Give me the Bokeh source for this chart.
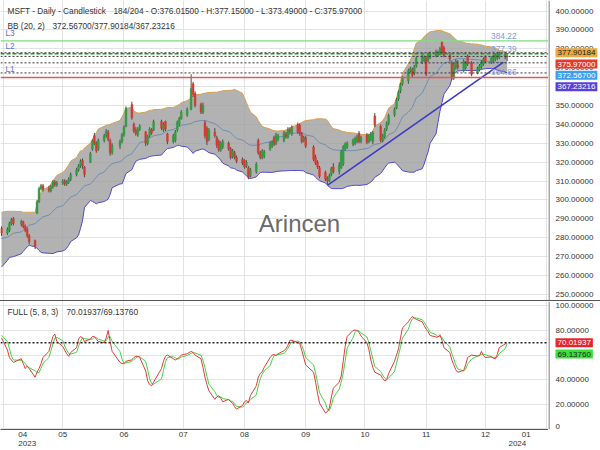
import pandas as pd
from bokeh.plotting import figure
from bokeh.layouts import column, row
from bokeh.models import (ColumnDataSource, FixedTicker, Label, Span, Div, Range1d, Grid, LinearAxis)
from bokeh.core.properties import value
from bokeh.embed import file_html
from bokeh.resources import INLINE

FONT = "Liberation Sans"
TXT = "#333333"

# ---------------- data ----------------
holidays = ["2023-04-07", "2023-05-29", "2023-06-19", "2023-07-04", "2023-09-04", "2023-11-23"]
dates = pd.bdate_range("2023-03-31", "2023-12-12", freq="C", holidays=holidays)

opens = [285, 282.5, 284, 287.5, 290, 287.5, 288.5, 286, 284.5, 281,
         278.5, 293, 299, 306, 307.5, 306, 305, 307, 309.5, 308,
         309, 310, 308.5, 309.5, 311, 313.5, 316, 318, 321, 317.5,
         320, 327, 334, 330, 327, 331.5, 334, 336, 331.5, 325,
         328.5, 331, 334.5, 339, 350.5, 340, 337, 334.5, 337.5, 336,
         330, 334, 337, 337, 341.5, 337, 341.5, 335, 331, 331.5,
         337, 340, 343, 345, 348, 361.5, 356.5, 350.5, 346.5, 341,
         338, 332, 336, 333, 331, 326.5, 328, 330, 327, 323,
         325, 322.5, 321.5, 321, 318, 317, 313, 315, 331.5, 325,
         322.5, 323, 327, 328.5, 333, 330, 332, 331.5, 335,
         333, 337,
         335, 340, 339.5, 335, 331.5, 333, 328, 322.5, 320, 317,
         314.5, 311.5, 310, 313.5, 317.5, 315, 317, 319, 327, 328,
         329.5, 330, 331, 335.5, 331, 334.5, 331, 332, 331, 344.5,
         339, 331.5, 333.5, 337.5, 340.5, 345, 348.5, 353.5, 357.5, 361.5,
         363, 368.5,
         369, 367, 371, 373, 374, 375, 374, 375.5, 376.5,
         377, 377.5, 383.5, 380.5, 376.5, 372.5, 364.5, 370, 371.5, 368.5,
         370, 376, 372.5, 367, 369, 370.5, 372, 375.5, 373, 374,
         374.5, 375, 375.5, 376, 376.015]
highs = [286, 285.5, 288.5, 290.5, 291, 289.5, 289, 287, 285.5, 282,
         279, 300, 307, 308.5, 308.5, 307.5, 308, 310.5, 310.5, 310,
         311, 311, 310.5, 312, 314.5, 317, 319, 321.5, 322, 318,
         325.5, 332, 335.5, 331, 332.5, 335, 337.5, 337, 332.5, 330,
         332, 335.5, 339.5, 349.5, 352, 341, 338.5, 338.5, 340, 336.5,
         334.5, 338.5, 338, 342.5, 342.5, 341, 342, 335.5, 335, 337,
         342, 344, 347.5, 349, 366.5, 362.5, 357.5, 351.5, 351.5, 342,
         339, 338, 338, 334, 332, 331, 332, 331, 328, 327,
         326, 323.5, 322.5, 321.5, 321, 318, 317, 320, 332.5, 326,
         327, 326.5, 331, 331.5, 334, 335.5, 335, 336.5, 336,
         338.5, 338.5,
         339.5, 341, 340.5, 336, 334, 334, 329, 324, 321, 318,
         315.5, 312.5, 314, 317.5, 319.5, 320, 326.5, 329, 330.5, 331,
         332.5, 333.5, 334.5, 336.5, 334, 335.5, 335, 336, 336.5, 346,
         340, 335, 338, 341.5, 345.5, 349, 354, 358, 362, 365.5,
         369.5, 370.5,
         370, 371.5, 376, 377, 376.5, 376, 378, 378.5, 379.5,
         379, 381, 384.22, 381.5, 377.5, 373.5, 372.5, 374.5, 374, 374.5,
         373.5, 377, 373.5, 370.5, 372, 374, 375.5, 376.5, 376, 377,
         377.5, 378, 378.5, 378, 377.15]
lows = [281, 281.5, 283, 286.5, 286.5, 286, 285, 283, 280, 276.5,
        274, 292.5, 298.5, 305, 304.5, 304, 304, 306, 307, 307,
        308, 307.5, 307.5, 308.5, 310, 312.5, 315, 317, 316.5, 312,
        319.5, 326, 329, 325, 326, 330.5, 333, 331, 323.5, 324,
        327, 330, 333.5, 338.5, 342.5, 335.5, 334, 333.5, 336.5, 328.5,
        329, 333, 334.5, 336.5, 337, 336, 336.5, 329.5, 330, 330.5,
        336, 339, 342.5, 344, 347.5, 354.5, 349, 345.5, 345.5, 332.5,
        329, 331, 333, 327.5, 325.5, 325.5, 327, 326, 321.5, 322,
        321.5, 319.5, 318.5, 316.5, 317, 311, 312, 314, 324, 321.5,
        321.5, 322, 326, 327.5, 328.5, 329, 331, 330.5, 332.5,
        332.5, 335,
        334, 335, 334, 330, 330.5, 327.5, 320.5, 318.5, 316.5, 311.5,
        310, 308.5, 309.5, 312.5, 314, 313.5, 316.5, 318, 326, 327,
        328.5, 329, 330, 330, 330, 329.5, 330, 331, 329.5, 338.5,
        330.5, 330.5, 332.5, 336.5, 339.5, 344, 348, 352.5, 356.5, 360.5,
        361.5, 367.5,
        365, 366, 370, 372, 373, 365.5, 373, 374.5, 375.5,
        376, 376.5, 377, 375.5, 373.5, 363.5, 363.5, 369, 369, 367.5,
        369, 371, 365.5, 366.5, 368, 369.5, 371, 372.5, 372, 373,
        373.5, 374, 374.5, 374.5, 373.49]
closes = [282.5, 284.5, 287.5, 289.5, 287.5, 288.5, 286, 284, 281, 278,
          275.5, 299, 306, 307.5, 305.5, 305, 307, 309.5, 308, 309,
          310, 308.5, 309.5, 311, 313.5, 316, 318, 320.5, 318, 313.5,
          324.5, 331, 330, 326, 331.5, 334, 336.5, 332, 325, 329,
          331, 334.5, 338.5, 348.5, 343.5, 336.5, 335, 337.5, 339, 330,
          333.5, 337.5, 335.5, 341.5, 338, 340, 337.5, 331, 334, 336,
          341, 343, 346.5, 348, 359, 355.5, 350, 346.5, 350, 334,
          331, 337, 334, 329, 326.5, 330, 331, 327, 322.5, 326,
          322.5, 320.5, 319.5, 317.5, 320, 312, 316, 319, 325, 322.5,
          326, 325.5, 330, 330.5, 329.5, 334.5, 334, 335.5, 333.5,
          337.5, 336,
          338.5, 336, 335, 331, 333, 328.5, 321.5, 319.5, 317.5, 312.5,
          311, 310, 313, 316.5, 315, 318.5, 325.5, 328, 329.5, 330,
          331.5, 332.5, 333.5, 331, 333, 330.5, 334, 335, 335.5, 339.5,
          331.5, 334, 337, 340.5, 344.5, 348, 353, 357, 361, 364.5,
          368.5, 369.5,
          366, 370.5, 375, 376, 375.5, 366.5, 377, 377.5, 378.5,
          378, 380, 378, 376.5, 374.5, 364.5, 371.5, 373.5, 370, 373.5,
          372, 372, 366.5, 369.5, 371, 373, 374.5, 373.5, 375, 376,
          376.5, 377, 377.5, 377, 375.97]

bb_upper = [293.5, 294, 294, 294, 294, 293.8, 293.5, 293.5, 293.5, 293.5,
            293.5, 298, 302, 304, 305.5, 307, 308.5, 310, 311.5, 313,
            314.5, 315.6, 317, 318.5, 320.5, 322.5, 324.5, 326, 326, 327.5,
            330, 332, 334, 335.7, 337.5, 339, 339.5, 339.8, 340, 340.5,
            342, 344, 346, 348.5, 349, 347, 346.5, 346, 346, 346.5,
            347, 347.4, 347.5, 347.8, 348, 348.3, 348.6, 349, 349, 349.5,
            350, 350.5, 351.5, 352.5, 354, 355, 355.5, 356, 356.3, 356.5,
            356.7, 356.9, 357, 357, 357.3, 357.5, 357.8, 358, 358, 358.2,
            358.5, 358, 356.5, 354, 351.5, 349, 346.5, 344, 342, 340.5,
            339, 338.5, 337.5, 337, 336.7, 336.5, 336.5, 336.7, 337,
            337.3, 338,
            338.8, 339.6, 340.5, 341, 341.6, 342, 342.5, 342.8, 343, 343,
            342.8, 342, 340.5, 338.8, 337.8, 337, 336.5, 336.2, 336, 335.7,
            335.5, 335.3, 335.1, 335, 334.7, 334.5, 334.5, 335.5, 336.5, 339,
            341, 342, 343.5, 346, 348.5, 351, 354, 358, 362.5, 367,
            372, 374,
            376.5, 380, 383, 385, 386.5, 387.5, 388.3, 389, 389.5,
            389.7, 389.7, 389.5, 389, 388, 387, 386, 385, 384, 383.5,
            383, 382.8, 382.6, 382.4, 382.2, 382, 381.7, 381.4, 381, 380.8,
            380.4, 379.8, 379.2, 378.6, 377.90184]
bb_mid = [279.6, 280.3, 281, 281.7, 282.4, 283.1, 283.9, 284.8, 285.7, 286.6,
          287.5, 288.5, 289.3, 290.2, 291.1, 292, 292.9, 294, 295, 296,
          297, 298, 299.2, 300.4, 301.6, 302.8, 304, 305.2, 306.5, 307.5,
          308.5, 309.5, 310.8, 312, 313.4, 314.8, 316, 317.3, 318.4, 319.3,
          320.2, 321, 322, 323, 324.5, 326, 327.5, 329, 330.4, 331,
          332, 332.7, 333.4, 334, 334.7, 335.3, 336, 336.6, 337.3, 337.8,
          338.3, 338.9, 339.5, 340, 340.5, 341, 341.5, 342, 342, 342,
          341.8, 341.3, 340.5, 339.6, 338.8, 338, 337, 336.3, 335.6, 334.5,
          333.5, 332.5, 331.7, 331, 330.2, 329.5, 329, 329, 329, 329.5,
          329.8, 330.2, 330.7, 331.2, 331.8, 332.5, 333.2, 333.8, 334,
          334.3, 334.8,
          335.2, 335.5, 335.7, 335.6, 335.2, 334.4, 333.6, 332.4, 331.3, 330.2,
          329.2, 328.3, 327.6, 327, 326.6, 326.3, 326.2, 326.1, 326.1, 326.1,
          326.1, 326.2, 326.3, 326.5, 326.8, 327.2, 327.6, 328.3, 328.8, 329.4,
          330, 331, 332, 333.2, 334.5, 336, 337.6, 339.5, 341.6, 344,
          346.5, 347.7,
          349, 351.5, 354, 356.5, 358.8, 361, 363.2, 365.3, 367,
          368.5, 370, 371.3, 372.4, 373.2, 373.8, 374.3, 374.6, 374.8, 374.8,
          374.7, 374.6, 374.4, 374.2, 374, 373.8, 373.6, 373.4, 373.2, 373.1,
          373, 372.9, 372.8, 372.7, 372.567]
bb_lower = [264.5, 268, 269.6, 269.8, 270, 271.5, 272.8, 274, 275.2, 276,
            275.2, 274.5, 273.3, 272.3, 272, 271.8, 271.7, 271.7, 272, 272.5,
            273, 273.5, 274.5, 276, 278, 280, 281.5, 285, 289, 296,
            299.7, 299.2, 298.6, 298, 298.5, 299.2, 299.7, 300.5, 303, 306.5,
            308.5, 308.5, 311, 314, 316, 318.5, 320.5, 321, 321.5, 322,
            322.5, 323, 323.2, 323.4, 323.8, 325, 326.2, 327.2, 327.8, 328.3,
            328.8, 328.8, 328.5, 328, 326, 324.6, 325.8, 326.8, 327, 326.5,
            325.8, 325, 324.2, 323.2, 322.3, 321, 319.5, 318, 317, 316.8,
            316.6, 315.8, 314.8, 313.8, 312.8, 311.8, 311.3, 312.2, 313.5, 314.5,
            314.7, 314.7, 314.6, 314.6, 314.8, 315, 315.2, 315.4, 315.4,
            315.5, 315.6,
            315.6, 315.6, 315.6, 315.5, 315.4, 314.5, 313.2, 312, 311, 310.2,
            309, 307.9, 306.8, 306.1, 306, 306, 306, 306.2, 306.6, 307.2,
            307.7, 307.8, 307.8, 307.7, 307.8, 308.2, 308.8, 309.5, 310.5, 312,
            314, 315.5, 317, 318.5, 319.5, 320, 319.2, 318, 316.8, 315.5,
            314.8, 314.7,
            314.7, 314.7, 315.5, 316.5, 319, 322.5, 325.5, 330, 335,
            341, 347, 351.5, 356, 360.5, 364, 366.5, 367.5, 368.3, 368.5,
            368.5, 368.5, 368.5, 368.6, 368.8, 369, 369.3, 369.5, 369.6, 369.5,
            369.2, 368.8, 368.3, 367.8, 367.23216]

stoch_k = [74, 64, 58, 56, 54, 57, 53, 49, 51, 49,
           42, 46, 49, 53, 58, 63, 69, 75, 77, 71,
           67, 64, 61, 59, 62, 66, 73, 75, 74, 71,
           73, 75, 75, 73, 71, 70, 74, 80, 71, 63,
           54, 53, 53, 55, 56, 58, 59, 59, 58, 47,
           39, 36, 35, 38, 49, 55, 59, 60, 57, 56,
           57, 58, 60, 61, 63, 62, 60, 57, 50, 42,
           36, 31, 24, 26, 27, 25, 22, 24, 22, 21,
           18, 16, 19, 22, 23, 21, 27, 35, 42, 45,
           46.4, 50, 58, 60, 60.5, 59.5, 61, 63.5, 65,
           68, 72,
           72, 70, 69.4, 64, 58, 52, 46, 38, 29, 21,
           13, 14, 17, 26, 33, 38, 43, 55, 67, 75,
           80, 80.3, 80, 78.5, 75.5, 70, 64.5, 56, 50, 46,
           43.8, 41, 39, 40, 45, 55, 60, 65, 74, 82,
           87, 89.5,
           91.3, 90, 89, 87, 84, 81, 79, 75.9, 74.6,
           74.6, 76.5, 72, 66, 62, 56, 52, 48, 46, 47.5,
           52, 58, 60, 59.2, 59.5, 63, 59.5, 58, 58.5, 57.5,
           57, 60.5, 66, 69, 70.01937]
stoch_d = [76, 71, 65.3, 59.3, 56, 55.7, 54.7, 53, 51, 49.7,
           47.3, 45.7, 45.7, 49.3, 53.3, 58, 63.3, 69, 73.7, 74.3,
           71.7, 67.3, 64, 61.3, 60.7, 62.3, 67, 71.3, 74, 73.3,
           72.7, 73, 74.3, 74.3, 73, 71.3, 71.7, 74.7, 75, 71.3,
           62.7, 56.7, 53.3, 53.7, 54.7, 56.3, 57.7, 58.7, 58.7, 54.7,
           48, 40.7, 36.7, 36.3, 40.7, 47.3, 54.3, 58, 58.7, 57.7,
           56.7, 57, 58.3, 59.7, 61.3, 62, 61.7, 59.7, 55.7, 49.7,
           42.7, 36.3, 30.3, 27, 25.7, 26, 24.7, 23.7, 22.7, 22.3,
           20.3, 18.3, 17.7, 19, 21.3, 22, 23.7, 27.7, 34.7, 40.7,
           44.5, 47.1, 51.5, 56, 59.5, 60, 60.3, 61.3, 63.2,
           65.5, 68.3,
           70.7, 71.3, 70.5, 67.8, 63.8, 58, 52, 45.3, 37.7, 29.3,
           21, 16, 14.7, 19, 25.3, 32.3, 38, 45.3, 55, 65.7,
           74, 78.4, 80.1, 79.6, 78, 74.7, 70, 63.5, 56.8, 50.7,
           46.6, 43.6, 41.3, 40, 41.3, 46.7, 53.3, 60, 66.3, 73.7,
           81, 86.2,
           89.3, 90.3, 90.1, 88.7, 86.7, 84, 81.3, 78.6, 76.5,
           75, 75.2, 74.4, 71.5, 66.7, 61.3, 56.7, 52, 48.7, 47.2,
           48.5, 52.5, 56.7, 59.1, 59.6, 60.6, 60.7, 60.2, 58.7, 58,
           57.7, 58.3, 61.2, 65.2, 69.1376]

level_L1, level_L2, level_L3 = 364.86, 377.39, 384.22
trend_dates = ["2023-09-12", "2023-12-10"]
trend_values = [307.7, 372.8]
last_o, last_h, last_l, last_c = 376.015, 377.15, 373.49, 375.97
bb_last_mid, bb_last_up, bb_last_lo = 372.567, 377.90184, 367.23216
k_last, d_last = 70.01937, 69.1376
month_starts = pd.date_range("2023-04-01", "2024-01-01", freq="MS")
price_ticks = list(range(250, 401, 10))
stoch_ticks = [20, 40, 60, 80, 100]
stoch_zero = [0]

# ---------------- layout constants ----------------
W = 600
RIGHT = 52
MAIN_W = W - RIGHT
TOP_H = 300
BOT_H = 149
BOT_AX = 21
X0 = pd.Timestamp("2023-03-30 11:30")
X1 = pd.Timestamp("2024-01-01 22:45")
x0_ms = X0.value / 1e6
x1_ms = X1.value / 1e6
DAY = 86400000
PY0, PY1 = 246.8, 405.56
SY0, SY1 = -0.5, 103.5
GRID = "#e3e3e3"
AXIS = "#555555"
TITLE_SIZE = "8.3px"

n = min(len(dates), len(opens), len(highs), len(lows), len(closes), len(bb_upper),
        len(bb_mid), len(bb_lower), len(stoch_k), len(stoch_d))
d = dates[:n]
o, h, l, c = opens[:n], highs[:n], lows[:n], closes[:n]
UP, DOWN = "#2f9e3f", "#d63a30"
src = ColumnDataSource(dict(
    date=d, o=o, h=h, l=l, c=c,
    top=[max(a, b) for a, b in zip(o, c)],
    bot=[min(a, b) for a, b in zip(o, c)],
    col=[UP if b >= a else DOWN for a, b in zip(o, c)],
    up=bb_upper[:n], mid=bb_mid[:n], lo=bb_lower[:n],
    k=stoch_k[:n], dd=stoch_d[:n],
))

month_ms = [t.value / 1e6 for t in month_starts]
month_ticker = FixedTicker(ticks=month_ms)


def base_fig(width, height, x_range, y_range, mbb=0, x_type="datetime", x_loc=None):
    f = figure(width=width, height=height, x_axis_type=x_type, x_axis_location=x_loc,
               y_axis_location=None, output_backend="svg", toolbar_location=None,
               x_range=x_range, y_range=y_range,
               min_border_left=0, min_border_right=0, min_border_top=0, min_border_bottom=mbb,
               outline_line_color=None, background_fill_color="white", border_fill_color="white")
    return f


def set_grid(f, dim, ticker):
    grids = list(f.xgrid if dim == 0 else f.ygrid)
    if not grids:
        g = Grid(dimension=dim)
        f.add_layout(g)
        grids = [g]
    for g in grids:
        g.ticker = ticker
        g.grid_line_color = GRID if ticker is not None else None


def label(f, x, y, text, size=TITLE_SIZE, color=TXT, **kw):
    f.add_layout(Label(x=x, y=y, text=text, text_font=FONT, text_font_size=size,
                       text_color=color, **kw))


def style_x_axis(ax, standoff):
    ax.major_label_text_font = FONT
    ax.major_label_text_font_size = "8px"
    ax.major_label_text_color = TXT
    ax.major_tick_line_color = None
    ax.minor_tick_line_color = None
    ax.major_tick_out = 0
    ax.major_tick_in = 0
    ax.minor_tick_out = 0
    ax.minor_tick_in = 0
    ax.axis_label_standoff = 0
    ax.major_label_standoff = standoff


def axis_strip(height, y_range, ticks, mbb=0, bottom_ticks=()):
    s = base_fig(RIGHT, height, Range1d(-0.01, 1), y_range, mbb=mbb, x_type="linear")
    set_grid(s, 0, None)
    set_grid(s, 1, None)
    s.add_layout(Span(location=0, dimension="height", line_color=AXIS, line_width=1))
    s.text(x=[0] * len(ticks), y=ticks, text=[f"{t:.5f}" for t in ticks],
           text_font=value(FONT), text_font_size="8px", text_color=TXT,
           text_baseline="middle", text_align="left", x_offset=6.5)
    if bottom_ticks:
        s.text(x=[0] * len(bottom_ticks), y=list(bottom_ticks), text=[f"{t:g}" for t in bottom_ticks],
               text_font=value(FONT), text_font_size="8px", text_color=TXT,
               text_baseline="bottom", text_align="left", x_offset=6.5)
    return s


def boxes(s, items, y0, y1, frame_h, box_h=11.3):
    ppu = frame_h / (y1 - y0)
    prev = -1e9
    for val, bg, fg in items:
        natural = (y1 - val) * ppu
        center = max(natural, prev + box_h)
        prev = center
        s.add_layout(Label(x=0, y=val, x_offset=6.5, y_offset=-(center - natural),
                           text=f"{val:.5f}", text_font=FONT, text_font_size="8px",
                           text_color=fg, text_align="left", text_baseline="middle",
                           background_fill_color=bg, background_fill_alpha=1.0,
                           padding=2))


# ---------------- price panel ----------------
x_range = Range1d(X0, X1)
p = base_fig(MAIN_W, TOP_H, x_range, Range1d(PY0, PY1))
set_grid(p, 0, month_ticker)
set_grid(p, 1, FixedTicker(ticks=price_ticks))

p.varea(x="date", y1="lo", y2="up", source=src, fill_color="#9c9c9c", fill_alpha=0.78)
p.line(x="date", y="up", source=src, line_color="#d6a14b", line_width=1)
p.line(x="date", y="lo", source=src, line_color="#5149d2", line_width=1)
p.line(x="date", y="mid", source=src, line_color="#6d8fb3", line_width=1)
p.segment(x0="date", y0="l", x1="date", y1="h", source=src, line_color="#4a4a4a", line_width=1)
p.vbar(x="date", width=0.9 * DAY, top="top", bottom="bot", source=src,
       fill_color="col", line_color="col", line_width=0.5)
p.line(x=[pd.Timestamp(t) for t in trend_dates], y=trend_values, line_color="#3b3bc4", line_width=1.6)

p.add_layout(Span(location=level_L3, dimension="width", line_color="#7fdc7f", line_width=1.2))
p.add_layout(Span(location=level_L2, dimension="width", line_color="#2c9a2c", line_width=1.6, line_dash="4 2"))
for v in (bb_last_up, last_c, bb_last_mid, bb_last_lo):
    p.add_layout(Span(location=v, dimension="width", line_color="#333333", line_width=1, line_dash="2 2"))
p.add_layout(Span(location=level_L1, dimension="width", line_color="#e05a5a", line_width=1.5))

for name, v in (("L3", level_L3), ("L2", level_L2), ("L1", level_L1)):
    label(p, x0_ms, v, name, color="#5577cc", x_offset=5, y_offset=3, text_baseline="bottom")
    label(p, x1_ms, v, f"{v:.2f}", color="#7a9be0", x_offset=-32, y_offset=2,
          text_align="right", text_baseline="bottom")

label(p, x0_ms, PY1, "MSFT - Daily - Candlestick", x_offset=7, y_offset=-10.5, text_baseline="middle")
label(p, x0_ms, PY1, f"184/204 - O:{last_o:.5f} - H:{last_h:.5f} - L:{last_l:.5f} - C:{last_c:.5f}",
      x_offset=113, y_offset=-10.5, text_baseline="middle")
label(p, x0_ms, PY1, "BB (20, 2)", x_offset=7, y_offset=-25.5, text_baseline="middle")
label(p, x0_ms, PY1, f"{bb_last_mid:.5f}/{bb_last_up:.5f}/{bb_last_lo:.5f}",
      x_offset=52, y_offset=-25.5, text_baseline="middle")
label(p, x0_ms + 0.5456 * (x1_ms - x0_ms), 287.6, "Arincen", size="24px", color="#555555",
      text_alpha=0.9, text_align="center", text_baseline="middle")

p_axis = axis_strip(TOP_H, p.y_range, price_ticks)
boxes(p_axis, [(bb_last_up, "#eda83e", "#222222"),
               (last_c, "#e5392c", "white"),
               (bb_last_mid, "#3d9ff2", "white"),
               (bb_last_lo, "#5a3fdc", "white")], PY0, PY1, TOP_H)

# ---------------- separator ----------------
sep = Div(text="", width=W, height=1, margin=0, styles={"background-color": AXIS})

# ---------------- stochastic panel ----------------
q = base_fig(MAIN_W, BOT_H, x_range, Range1d(SY0, SY1), mbb=BOT_AX, x_loc="below")
month_axis = q.xaxis[0]
month_axis.ticker = month_ticker
labels = {}
for i, t in enumerate(month_starts):
    s = t.strftime("%m")
    if i == 0:
        s = "\u2007\u2007\u2007\u2007" + s
    elif i == len(month_starts) - 1:
        s = s + "\u2007\u2007\u2007\u2007"
    labels[t.value / 1e6] = s
month_axis.major_label_overrides = labels
style_x_axis(month_axis, 0)
month_axis.axis_line_color = AXIS
set_grid(q, 0, month_ticker)
set_grid(q, 1, FixedTicker(ticks=stoch_zero + stoch_ticks))

year_ticks = [month_ms[0], month_ms[-1]]
year_axis = LinearAxis(ticker=FixedTicker(ticks=year_ticks),
                       major_label_overrides={year_ticks[0]: "\u2007\u2007\u2007\u2007" + str(month_starts[0].year),
                                              year_ticks[1]: str(month_starts[-1].year) + "\u2007\u2007\u2007\u2007\u2007"},
                       axis_line_color=None)
style_x_axis(year_axis, -3)
q.add_layout(year_axis, "below")

q.line(x="date", y="dd", source=src, line_color="#45d445", line_width=1)
q.line(x="date", y="k", source=src, line_color="#e23b3b", line_width=1)
q.add_layout(Span(location=k_last, dimension="width", line_color="#222222", line_width=1.5, line_dash="2 2"))

label(q, x0_ms, SY1, "FULL (5, 8, 3)", x_offset=7, y_offset=-10.5, text_baseline="middle")
label(q, x0_ms, SY1, f"{k_last:.5f}/{d_last:.5f}", x_offset=66, y_offset=-10.5, text_baseline="middle")

q_axis = axis_strip(BOT_H, q.y_range, stoch_ticks, mbb=BOT_AX, bottom_ticks=stoch_zero)
boxes(q_axis, [(k_last, "#e8252a", "white"),
               (d_last, "#3be03b", "#222222")], SY0, SY1, BOT_H - BOT_AX)

layout = column(row(p, p_axis, spacing=0), sep, row(q, q_axis, spacing=0), spacing=0)
open("out.html", "w").write(file_html(layout, INLINE, title="MSFT"))
